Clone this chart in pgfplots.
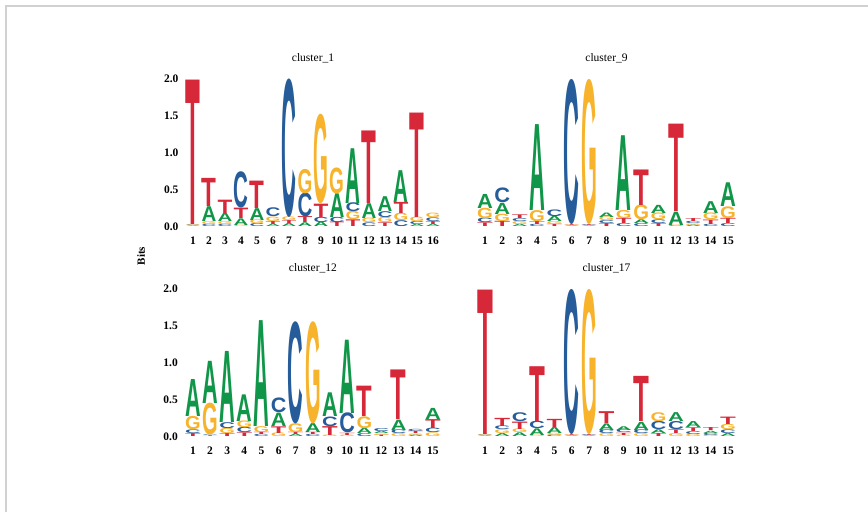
\documentclass[border=0pt]{standalone}
\usepackage{fontspec}
\setmainfont{Liberation Serif}
\newfontfamily\logofont{Liberation Sans}
\usepackage{graphicx}
\usepackage{pgfplots}
\usepackage{pgfplotstable}
\pgfplotsset{compat=1.18}
\definecolor{colA}{HTML}{109648}
\definecolor{colC}{HTML}{255C99}
\definecolor{colG}{HTML}{F7B32B}
\definecolor{colT}{HTML}{D62839}
\pgfdeclareplotmark{nomark}{}
\def\unitY{74}

% columns: position, then the four letters from bottom to top with their heights (bits)
\pgfplotstableread{
x l1 h1 l2 h2 l3 h3 l4 h4
1 A 0.01 C 0.01 G 0.01 T 1.95
2 C 0.03 G 0.04 A 0.20 T 0.38
3 C 0.03 G 0.04 A 0.11 T 0.18
4 G 0.02 A 0.09 T 0.14 C 0.49
5 C 0.04 G 0.05 A 0.16 T 0.37
6 A 0.03 T 0.04 G 0.06 C 0.12
7 A 0.04 T 0.04 G 0.05 C 1.87
8 A 0.05 T 0.08 C 0.32 G 0.33
9 A 0.06 C 0.07 T 0.18 G 1.21
10 T 0.06 C 0.07 A 0.32 G 0.35
11 T 0.09 G 0.11 C 0.12 A 0.74
12 C 0.05 G 0.06 A 0.20 T 0.98
13 T 0.05 G 0.07 C 0.08 A 0.20
14 C 0.08 G 0.10 T 0.15 A 0.43
15 A 0.03 C 0.04 G 0.06 T 1.41
16 A 0.03 T 0.04 C 0.05 G 0.06
}\clOne
\pgfplotstableread{
x l1 h1 l2 h2 l3 h3 l4 h4
1 T 0.05 C 0.06 G 0.14 A 0.19
2 T 0.07 G 0.10 A 0.15 C 0.20
3 A 0.03 G 0.04 C 0.04 T 0.05
4 C 0.03 T 0.04 G 0.15 A 1.16
5 T 0.03 G 0.04 A 0.07 C 0.09
6 A 0.01 G 0.01 T 0.01 C 1.96
7 A 0.01 C 0.01 T 0.01 G 1.96
8 T 0.04 C 0.04 G 0.05 A 0.06
9 C 0.04 T 0.07 G 0.11 A 1.01
10 C 0.04 A 0.05 G 0.20 T 0.48
11 T 0.04 C 0.05 G 0.09 A 0.11
12 C 0.01 G 0.01 A 0.18 T 1.18
13 A 0.02 G 0.02 C 0.03 T 0.04
14 C 0.03 T 0.06 G 0.09 A 0.16
15 C 0.04 T 0.07 G 0.16 A 0.32
}\clNine
\pgfplotstableread{
x l1 h1 l2 h2 l3 h3 l4 h4
1 T 0.04 C 0.05 G 0.18 A 0.50
2 T 0.01 C 0.01 G 0.43 A 0.57
3 T 0.04 G 0.07 C 0.08 A 0.96
4 T 0.05 C 0.07 G 0.09 A 0.36
5 C 0.03 T 0.03 G 0.08 A 1.43
6 G 0.05 T 0.09 A 0.18 C 0.20
7 A 0.03 T 0.03 G 0.12 C 1.38
8 C 0.03 T 0.03 A 0.12 G 1.38
9 G 0.02 T 0.12 C 0.13 A 0.32
10 G 0.02 T 0.03 C 0.27 A 0.99
11 C 0.04 A 0.07 G 0.16 T 0.41
12 T 0.02 G 0.02 A 0.03 C 0.04
13 G 0.04 C 0.05 A 0.14 T 0.67
14 A 0.02 G 0.02 T 0.03 C 0.03
15 G 0.05 C 0.06 T 0.12 A 0.15
}\clTwelve
\pgfplotstableread{
x l1 h1 l2 h2 l3 h3 l4 h4
1 A 0.01 C 0.01 G 0.01 T 1.95
2 A 0.04 G 0.05 C 0.05 T 0.11
3 A 0.05 G 0.05 T 0.10 C 0.12
4 G 0.02 A 0.09 C 0.10 T 0.74
5 C 0.02 G 0.03 A 0.08 T 0.11
6 A 0.01 G 0.01 T 0.01 C 1.96
7 A 0.01 C 0.01 T 0.01 G 1.96
8 G 0.04 C 0.05 A 0.09 T 0.16
9 G 0.02 T 0.03 C 0.04 A 0.05
10 G 0.04 C 0.05 A 0.11 T 0.61
11 T 0.04 A 0.05 C 0.11 G 0.12
12 G 0.04 T 0.05 C 0.11 A 0.12
13 G 0.03 C 0.04 T 0.05 A 0.08
14 G 0.02 C 0.03 A 0.03 T 0.04
15 A 0.04 C 0.05 G 0.07 T 0.10
}\clSeventeen

\pgfplotsset{
  logoaxis/.style={
    scale only axis, height=148pt, ymin=0, ymax=2,
    clip=false, enlargelimits=false,
    axis line style={draw=none}, major tick length=0pt,
    /pgf/number format/assume math mode=true,
    tick label style={font=\fontsize{11.5}{13}\selectfont\bfseries},
    xticklabel style={yshift=-7pt},
    yticklabel style={xshift=-3pt},
    title style={font=\fontsize{11.5}{13}\selectfont, at={(0.5,1)}, anchor=base, yshift=11pt},
  },
  yleft/.style={ytick={0,0.5,1,1.5,2}, yticklabels={0.0,0.5,1.0,1.5,2.0}},
  ynone/.style={ytick=\empty},
  lay/.style n args={2}{only marks, scatter, mark=nomark,
    point meta=explicit symbolic,
    visualization depends on={\thisrow{h#1}\as\hh},
    scatter/@pre marker code/.code={\scope
      \edef\ltr{\pgfplotspointmeta}%
      \pgfmathsetlengthmacro\LH{\hh*\unitY}%
      \pgftext[top]{\color{col\ltr}\resizebox*{#2}{\LH}{\logofont\bfseries\ltr}}},
    scatter/@post marker code/.code={\endscope}},
}
% one logo = four layers; each layer's mark sits at the running top of the stack
\newcommand\logoplots[2]{%
  \addplot[lay={1}{#2}] table[x=x, y expr=\thisrow{h1}, meta=l1] {#1};
  \addplot[lay={2}{#2}] table[x=x, y expr=\thisrow{h1}+\thisrow{h2}, meta=l2] {#1};
  \addplot[lay={3}{#2}] table[x=x, y expr=\thisrow{h1}+\thisrow{h2}+\thisrow{h3}, meta=l3] {#1};
  \addplot[lay={4}{#2}] table[x=x, y expr=\thisrow{h1}+\thisrow{h2}+\thisrow{h3}+\thisrow{h4}, meta=l4] {#1};
}

\begin{document}
\begin{tikzpicture}[x=1pt,y=1pt]
\path[use as bounding box] (0,0) rectangle (868,512);
\draw[black!18, line width=1.3pt] (6,0) -- (6,506) -- (868,506);

\begin{axis}[logoaxis, yleft, at={(185pt,285.3pt)}, anchor=south west,
  width=256pt, xmin=0.5, xmax=16.5, xtick={1,...,16}, title={cluster\_1}]
\logoplots{\clOne}{14.8pt}
\end{axis}

\begin{axis}[logoaxis, ynone, at={(476.3pt,285.3pt)}, anchor=south west,
  width=260.4pt, xmin=0.5, xmax=15.5, xtick={1,...,15}, title={cluster\_9}]
\logoplots{\clNine}{15.8pt}
\end{axis}

\begin{axis}[logoaxis, yleft, at={(184.4pt,75.3pt)}, anchor=south west,
  width=257pt, xmin=0.5, xmax=15.5, xtick={1,...,15}, title={cluster\_12}]
\logoplots{\clTwelve}{15.6pt}
\end{axis}

\begin{axis}[logoaxis, ynone, at={(476.3pt,75.3pt)}, anchor=south west,
  width=260.4pt, xmin=0.5, xmax=15.5, xtick={1,...,15}, title={cluster\_17}]
\logoplots{\clSeventeen}{15.8pt}
\end{axis}

\node[rotate=90, font=\fontsize{11}{13}\selectfont\bfseries] at (141,256) {Bits};
\end{tikzpicture}
\end{document}
